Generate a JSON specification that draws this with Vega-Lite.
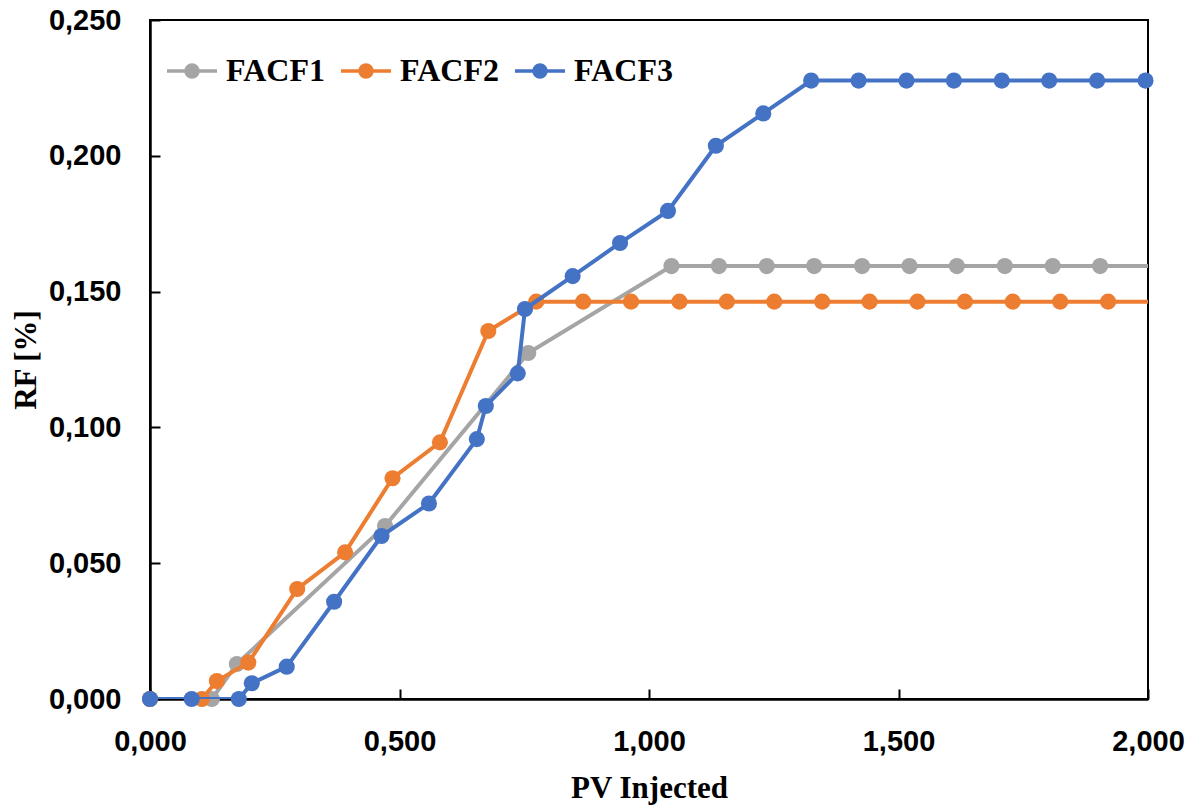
{
  "$schema": "https://vega.github.io/schema/vega-lite/v6.json",
  "autosize": {"type": "none"},
  "width": 998,
  "height": 679,
  "padding": {"left": 150, "top": 20, "right": 49, "bottom": 110},
  "background": "white",
  "config": {
    "view": {"stroke": "black", "strokeWidth": 2},
    "axis": {
      "grid": false,
      "labelFlush": false,
      "labelOverlap": false,
      "domainColor": "black",
      "domainWidth": 2.5,
      "tickColor": "black",
      "tickWidth": 2,
      "tickSize": -10,
      "labelFont": "Liberation Sans",
      "labelFontWeight": "bold",
      "labelFontSize": 29,
      "labelColor": "black",
      "titleFont": "Liberation Serif",
      "titleFontWeight": "bold",
      "titleFontSize": 31,
      "titleColor": "black"
    }
  },
  "data": {
    "values": [
      {"s": "FACF1", "x": 0, "y": 0},
      {"s": "FACF1", "x": 0.124, "y": 0},
      {"s": "FACF1", "x": 0.174, "y": 0.0129},
      {"s": "FACF1", "x": 0.471, "y": 0.0637},
      {"s": "FACF1", "x": 0.758, "y": 0.1274},
      {"s": "FACF1", "x": 1.045, "y": 0.1594},
      {"s": "FACF1", "x": 1.140, "y": 0.1594},
      {"s": "FACF1", "x": 1.236, "y": 0.1594},
      {"s": "FACF1", "x": 1.331, "y": 0.1594},
      {"s": "FACF1", "x": 1.427, "y": 0.1594},
      {"s": "FACF1", "x": 1.522, "y": 0.1594},
      {"s": "FACF1", "x": 1.617, "y": 0.1594},
      {"s": "FACF1", "x": 1.713, "y": 0.1594},
      {"s": "FACF1", "x": 1.809, "y": 0.1594},
      {"s": "FACF1", "x": 1.904, "y": 0.1594},
      {"s": "FACF1", "x": 2.03, "y": 0.1594},
      {"s": "FACF2", "x": 0, "y": 0},
      {"s": "FACF2", "x": 0.104, "y": 0},
      {"s": "FACF2", "x": 0.134, "y": 0.0066},
      {"s": "FACF2", "x": 0.197, "y": 0.0134},
      {"s": "FACF2", "x": 0.295, "y": 0.0405},
      {"s": "FACF2", "x": 0.391, "y": 0.054},
      {"s": "FACF2", "x": 0.486, "y": 0.0813},
      {"s": "FACF2", "x": 0.581, "y": 0.0945},
      {"s": "FACF2", "x": 0.678, "y": 0.1355},
      {"s": "FACF2", "x": 0.774, "y": 0.1463},
      {"s": "FACF2", "x": 0.868, "y": 0.1463},
      {"s": "FACF2", "x": 0.964, "y": 0.1463},
      {"s": "FACF2", "x": 1.061, "y": 0.1463},
      {"s": "FACF2", "x": 1.156, "y": 0.1463},
      {"s": "FACF2", "x": 1.251, "y": 0.1463},
      {"s": "FACF2", "x": 1.347, "y": 0.1463},
      {"s": "FACF2", "x": 1.442, "y": 0.1463},
      {"s": "FACF2", "x": 1.538, "y": 0.1463},
      {"s": "FACF2", "x": 1.633, "y": 0.1463},
      {"s": "FACF2", "x": 1.729, "y": 0.1463},
      {"s": "FACF2", "x": 1.824, "y": 0.1463},
      {"s": "FACF2", "x": 1.920, "y": 0.1463},
      {"s": "FACF2", "x": 2.03, "y": 0.1463},
      {"s": "FACF3", "x": 0, "y": 0},
      {"s": "FACF3", "x": 0.0835, "y": 0},
      {"s": "FACF3", "x": 0.178, "y": 0},
      {"s": "FACF3", "x": 0.204, "y": 0.0058},
      {"s": "FACF3", "x": 0.274, "y": 0.0119},
      {"s": "FACF3", "x": 0.369, "y": 0.0358},
      {"s": "FACF3", "x": 0.464, "y": 0.06},
      {"s": "FACF3", "x": 0.559, "y": 0.072},
      {"s": "FACF3", "x": 0.655, "y": 0.0957},
      {"s": "FACF3", "x": 0.673, "y": 0.1079},
      {"s": "FACF3", "x": 0.737, "y": 0.1199},
      {"s": "FACF3", "x": 0.7515, "y": 0.1436},
      {"s": "FACF3", "x": 0.847, "y": 0.1557},
      {"s": "FACF3", "x": 0.942, "y": 0.1679},
      {"s": "FACF3", "x": 1.038, "y": 0.1797},
      {"s": "FACF3", "x": 1.134, "y": 0.2037},
      {"s": "FACF3", "x": 1.229, "y": 0.2156},
      {"s": "FACF3", "x": 1.325, "y": 0.2277},
      {"s": "FACF3", "x": 1.420, "y": 0.2277},
      {"s": "FACF3", "x": 1.516, "y": 0.2277},
      {"s": "FACF3", "x": 1.611, "y": 0.2277},
      {"s": "FACF3", "x": 1.707, "y": 0.2277},
      {"s": "FACF3", "x": 1.802, "y": 0.2277},
      {"s": "FACF3", "x": 1.898, "y": 0.2277},
      {"s": "FACF3", "x": 1.995, "y": 0.2277}
    ]
  },
  "encoding": {
    "x": {
      "field": "x", "type": "quantitative",
      "scale": {"domain": [0, 2], "nice": false, "zero": false},
      "axis": {
        "values": [0, 0.5, 1, 1.5, 2],
        "labelExpr": "replace(format(datum.value, '.3f'), '.', ',')",
        "labelPadding": 38,
        "title": "PV Injected",
        "titleY": 98,
        "titleBaseline": "alphabetic"
      }
    },
    "y": {
      "field": "y", "type": "quantitative",
      "scale": {"domain": [0, 0.25], "nice": false},
      "axis": {
        "values": [0, 0.05, 0.1, 0.15, 0.2, 0.25],
        "labelExpr": "replace(format(datum.value, '.3f'), '.', ',')",
        "labelPadding": 39,
        "title": "RF [%]",
        "titleX": -115,
        "titleY": 339.5,
        "titleAngle": -90,
        "titleBaseline": "alphabetic",
        "titleAlign": "center"
      }
    },
    "color": {
      "field": "s", "type": "nominal",
      "scale": {"domain": ["FACF1", "FACF2", "FACF3"], "range": ["#A5A5A5", "#ED7D31", "#4472C4"]},
      "legend": {
        "title": null,
        "orient": "none",
        "direction": "horizontal",
        "legendX": 15,
        "legendY": 24,
        "symbolType": "M-1,0L1,0M0.24,0A0.24,0.24,0,1,1,-0.24,0A0.24,0.24,0,1,1,0.24,0Z",
        "symbolSize": 2500,
        "symbolStrokeWidth": 3.5,
        "labelFont": "Liberation Serif",
        "labelFontWeight": "bold",
        "labelFontSize": 32,
        "labelColor": "black",
        "labelOffset": 7,
        "columnPadding": 9,
        "encode": {
          "symbols": {
            "update": {
              "fill": {"scale": "color", "field": "value"},
              "stroke": {"scale": "color", "field": "value"},
              "opacity": {"value": 1},
              "fillOpacity": {"value": 1},
              "strokeOpacity": {"value": 1}
            }
          }
        }
      }
    }
  },
  "layer": [
    {"transform": [{"filter": "datum.s === 'FACF1'"}], "mark": {"type": "line", "strokeWidth": 4, "clip": true}},
    {"transform": [{"filter": "datum.s === 'FACF1' && datum.x <= 2"}], "mark": {"type": "point", "filled": true, "opacity": 1, "size": 260}},
    {"transform": [{"filter": "datum.s === 'FACF2'"}], "mark": {"type": "line", "strokeWidth": 4, "clip": true}},
    {"transform": [{"filter": "datum.s === 'FACF2' && datum.x <= 2"}], "mark": {"type": "point", "filled": true, "opacity": 1, "size": 260}},
    {"transform": [{"filter": "datum.s === 'FACF3'"}], "mark": {"type": "line", "strokeWidth": 4, "clip": true}},
    {"transform": [{"filter": "datum.s === 'FACF3' && datum.x <= 2"}], "mark": {"type": "point", "filled": true, "opacity": 1, "size": 260}}
  ]
}
